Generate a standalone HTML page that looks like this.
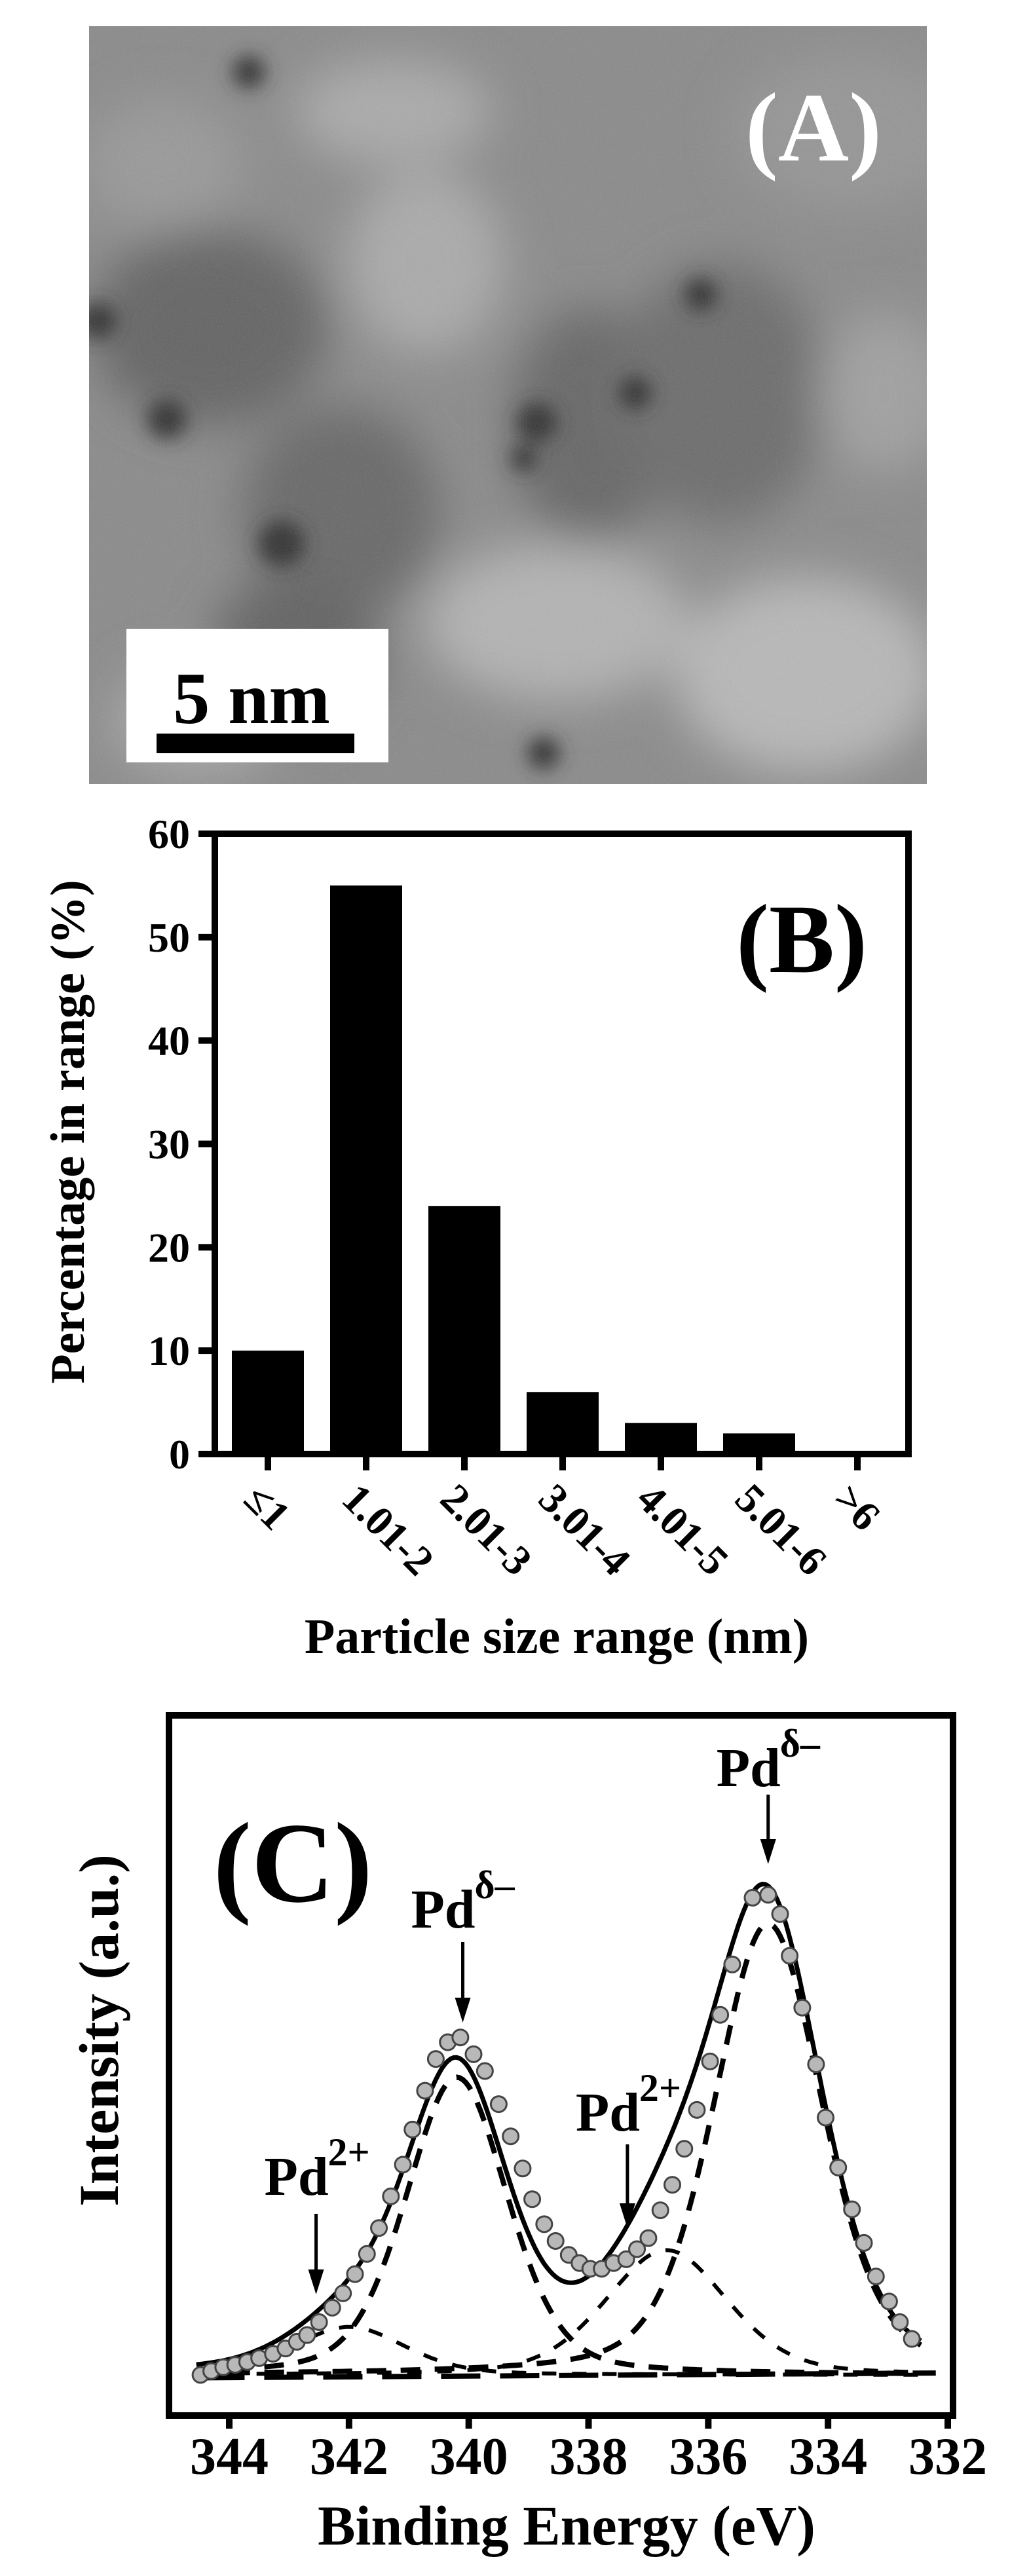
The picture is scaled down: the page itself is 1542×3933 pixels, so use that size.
<!DOCTYPE html>
<html><head><meta charset="utf-8"><style>
html,body{margin:0;padding:0;background:#fff}
svg{display:block}
text{font-family:"Liberation Serif",serif;font-weight:bold}
</style></head><body>
<svg id="fig" width="1542" height="3933" viewBox="0 0 1542 3933" xmlns="http://www.w3.org/2000/svg">
<defs>
<filter id="blur1" x="-50%" y="-50%" width="200%" height="200%"><feGaussianBlur stdDeviation="35"/></filter>
<filter id="blur2" x="-50%" y="-50%" width="200%" height="200%"><feGaussianBlur stdDeviation="14"/></filter>
<filter id="noise"><feTurbulence type="fractalNoise" baseFrequency="0.6" numOctaves="2" seed="3"/><feColorMatrix type="saturate" values="0"/></filter>
<clipPath id="clipA"><rect x="136" y="40" width="1279" height="1157"/></clipPath>
</defs>
<g clip-path="url(#clipA)">
<rect x="136" y="40" width="1279" height="1157" fill="#8a8a8a"/>
<g filter="url(#blur1)">
<ellipse cx="600" cy="170" rx="150" ry="80" fill="#aaa"/>
<ellipse cx="1300" cy="200" rx="180" ry="120" fill="#959595"/>
<ellipse cx="320" cy="500" rx="180" ry="150" fill="#646464"/>
<ellipse cx="520" cy="780" rx="150" ry="160" fill="#686868"/>
<ellipse cx="900" cy="650" rx="120" ry="180" fill="#666"/>
<ellipse cx="1100" cy="600" rx="160" ry="200" fill="#6c6c6c"/>
<ellipse cx="650" cy="400" rx="120" ry="140" fill="#aaa"/>
<ellipse cx="850" cy="950" rx="200" ry="120" fill="#b3b3b3"/>
<ellipse cx="1230" cy="1030" rx="200" ry="150" fill="#b8b8b8"/>
<ellipse cx="450" cy="1000" rx="130" ry="120" fill="#626262"/>
<ellipse cx="1350" cy="600" rx="100" ry="120" fill="#a0a0a0"/>
<ellipse cx="250" cy="250" rx="120" ry="100" fill="#999"/>
<ellipse cx="300" cy="1100" rx="130" ry="90" fill="#a5a5a5"/>
</g>
<g filter="url(#blur2)" fill="#333">
<circle cx="150" cy="490" r="28"/><circle cx="380" cy="110" r="25"/><circle cx="820" cy="645" r="30"/>
<circle cx="970" cy="600" r="25"/><circle cx="430" cy="830" r="35"/><circle cx="830" cy="1150" r="25"/>
<circle cx="255" cy="640" r="30"/><circle cx="1070" cy="450" r="25"/><circle cx="800" cy="700" r="20"/>
</g>
<rect x="136" y="40" width="1279" height="1157" filter="url(#noise)" opacity="0.18"/>
</g>
<rect x="193" y="960" width="400" height="204" fill="#fff"/>
<text x="384" y="1104" font-size="112" text-anchor="middle">5 nm</text>
<rect x="239" y="1120" width="302" height="30" fill="#000"/>
<text x="1242" y="245" font-size="150" fill="#fff" text-anchor="middle">(A)</text>

<g id="chartB"></g>
<g id="chartC"></g>
</svg>
<script>
const NS="http://www.w3.org/2000/svg";
function mk(parent,tag,attrs,txt){const e=document.createElementNS(NS,tag);for(const k in attrs)e.setAttribute(k,attrs[k]);if(txt!==undefined)e.textContent=txt;parent.appendChild(e);return e;}

// ---------- Panel B data ----------
const bCategories=["≤1","1.01-2","2.01-3","3.01-4","4.01-5","5.01-6",">6"];
const bValues=[10,55,24,6,3,2,0];
const bYTicks=[0,10,20,30,40,50,60];

// ---------- Panel C data ----------
const cXTicks=[344,342,340,338,336,334,332];
const cPointsE=[344.48,344.3,344.1,343.9,343.7,343.5,343.27,343.06,342.87,342.7,342.5,342.28,342.1,341.9,341.7,341.5,341.3,341.1,340.94,340.73,340.55,340.35,340.14,339.92,339.73,339.5,339.3,339.1,338.94,338.74,338.55,338.33,338.15,337.97,337.78,337.58,337.37,337.19,337.0,336.8,336.6,336.4,336.19,335.97,335.8,335.6,335.26,335.0,334.8,334.64,334.43,334.2,334.04,333.83,333.6,333.4,333.2,332.98,332.8,332.6];
const cPointsI=[0,0.8,1.6,2.1,2.7,3.5,4.4,5.5,6.9,8.3,11,14,17,21,25.2,30.6,37.2,43.8,51.1,59.2,65.8,69.3,70.3,66.8,63.3,56.4,49.7,43,36.6,31.4,27.9,25,23.3,22.1,22.1,23.3,24.1,26.2,28.5,34.3,39.6,47.1,55.2,65.3,75,85.5,99.4,100,96,87.3,76.5,64.7,53.6,43.2,34.5,27.5,20.5,15.3,11,7.5];
const cPeakCenters=[335.0,340.2,336.7,342.0];
const cPeakHeights=[94,62,26,10];
const cPeakWidths=[2.15,2.0,2.4,2.2];
const cPeakEta=[0.35,0.3,0.3,0.3];
const cAnnotations=[{t:"Pd",s:"δ–",e:335.0,ty:2727,a0:2740,a1:2846},{t:"Pd",s:"δ–",e:340.1,ty:2943,a0:2965,a1:3088},{t:"Pd",s:"2+",e:337.35,ty:3253,a0:3274,a1:3402},{t:"Pd",s:"2+",e:342.55,ty:3351,a0:3380,a1:3503}];

// ===== Panel B =====
(function(){
const g=document.getElementById('chartB');
const L=328,R=1387,T=1273,B=2220;
const y=v=>B-(v-0)/(60-0)*(B-T);
const x=i=>409+i*150;
bValues.forEach((v,i)=>{
  const r=mk(g,'rect',{x:x(i)-55,y:y(v),width:110,height:B-y(v),fill:'#000'});
  
  
});
const fr=mk(g,'rect',{x:L,y:T,width:R-L,height:B-T,fill:'none',stroke:'#000','stroke-width':10});


bYTicks.forEach(v=>{
  mk(g,'line',{x1:L-25,x2:L,y1:y(v),y2:y(v),stroke:'#000','stroke-width':10});
  const t=mk(g,'text',{x:290,y:y(v)+22,'font-size':64,'text-anchor':'end'},String(v));
  
  
});
bCategories.forEach((c,i)=>{
  mk(g,'line',{x1:x(i),x2:x(i),y1:B,y2:B+25,stroke:'#000','stroke-width':10});
  const t=mk(g,'text',{x:0,y:0,'font-size':64,transform:`translate(${x(i)-40},${2292}) rotate(45)`},c);
  
  
});
const xt=mk(g,'text',{x:850,y:2524,'font-size':76,'text-anchor':'middle'},'Particle size range (nm)');


const yt=mk(g,'text',{x:0,y:0,'font-size':74,'text-anchor':'middle',transform:'translate(128,1728) rotate(-90)'},'Percentage in range (%)');


const lb=mk(g,'text',{x:1224,y:1484,'font-size':150,'text-anchor':'middle'},'(B)');


})();

// ===== Panel C =====
(function(){
const g=document.getElementById('chartC');
const L=258,R=1455,T=2619,B=3688;
const x=e=>350+(344-e)*(1447-350)/12;
const y=v=>3626-v*7.33;
function pv(e,k){const c=cPeakCenters[k],h=cPeakHeights[k],w=cPeakWidths[k],n=cPeakEta[k];const d=(e-c)/(w/2);return h*((1-n)*Math.exp(-Math.LN2*d*d)+n/(1+d*d));}
const es=[];for(let e=344.55;e>=332.4;e-=0.05)es.push(e);
cPeakCenters.forEach((c,k)=>{
  const d=es.map((e,i)=>(i?'L':'M')+x(e).toFixed(1)+' '+y(pv(e,k)).toFixed(1)).join(' ');
  const p=mk(g,'path',{d,fill:'none',stroke:'#000','stroke-width':k<2?8:6,'stroke-dasharray':k<2?'30 22':'22 24'});
  
  
});
const bl=mk(g,'line',{x1:x(344.4),x2:x(332.2),y1:y(-0.6),y2:y(0.4),stroke:'#000','stroke-width':8,'stroke-dasharray':'60 30'});


const d=es.map((e,i)=>{let s=0;for(let k=0;k<cPeakCenters.length;k++)s+=pv(e,k);return (i?'L':'M')+x(e).toFixed(1)+' '+y(s).toFixed(1);}).join(' ');
const env=mk(g,'path',{d,fill:'none',stroke:'#000','stroke-width':7});


cPointsE.forEach((e,i)=>{
  const c=mk(g,'circle',{cx:x(e),cy:y(cPointsI[i]),r:12,fill:'#b8b8b8',stroke:'#444','stroke-width':3});
  
  
});
const fr=mk(g,'rect',{x:L,y:T,width:R-L,height:B-T,fill:'none',stroke:'#000','stroke-width':10});


cXTicks.forEach(v=>{
  mk(g,'line',{x1:x(v),x2:x(v),y1:B,y2:B+20,stroke:'#000','stroke-width':10});
  const t=mk(g,'text',{x:x(v),y:3777,'font-size':80,'text-anchor':'middle'},String(v));
  
  
});
cAnnotations.forEach(a=>{
  const cx=x(a.e);
  const t=mk(g,'text',{x:cx-30,y:a.ty,'font-size':84,'text-anchor':'middle'},a.t);
  
  
  mk(g,'text',{x:cx+18,y:a.ty-45,'font-size':60},a.s);
  mk(g,'line',{x1:cx,x2:cx,y1:a.a0,y2:a.a1-30,stroke:'#000','stroke-width':5});
  mk(g,'path',{d:`M${cx-12} ${a.a1-38} L${cx+12} ${a.a1-38} L${cx} ${a.a1} Z`,fill:'#000'});
});
const xt=mk(g,'text',{x:865,y:3885,'font-size':86,'text-anchor':'middle'},'Binding Energy (eV)');


const yt=mk(g,'text',{x:0,y:0,'font-size':86,'text-anchor':'middle',transform:'translate(180,3100) rotate(-90)'},'Intensity (a.u.)');


const lb=mk(g,'text',{x:447,y:2903,'font-size':175,'text-anchor':'middle'},'(C)');


})();
</script>
</body></html>
